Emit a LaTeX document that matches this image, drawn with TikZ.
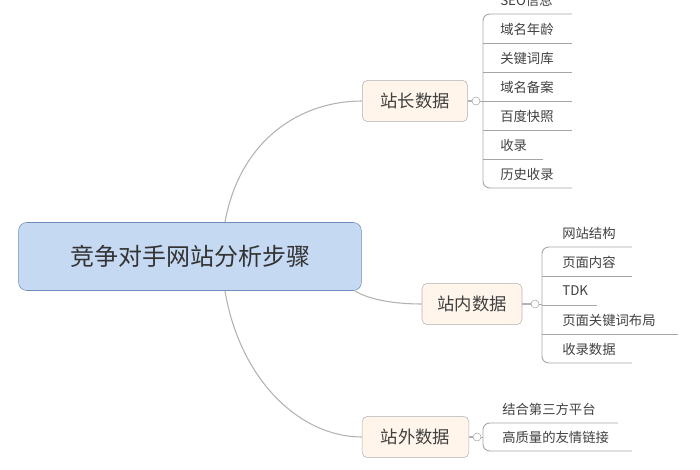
\documentclass[tikz,border=0pt]{standalone}
\usepackage{fontspec}
\newfontfamily\cjk{Noto Sans CJK SC}
\definecolor{mainfill}{RGB}{198,217,242}
\definecolor{mainline}{RGB}{110,140,185}
\begin{document}
\begin{tikzpicture}[x=0.75pt,y=-0.75pt,
  conn/.style={draw=black!30,line width=0.8pt},
  branch/.style={draw=black!30,fill=orange!8,rounded corners=4pt,inner sep=0pt,font=\cjk\fontsize{13}{13}\selectfont,text=black!75},
  leaf/.style={anchor=west,inner sep=0pt,font=\cjk\fontsize{10}{10}\selectfont,text=black!75},
  uline/.style={draw=black!35,line width=0.7pt},
  knob/.style={circle,draw=black!35,fill=white,inner sep=0pt,minimum size=6pt}]
\useasboundingbox (0,0) rectangle (700,470);
\node[draw=mainline,fill=mainfill,rounded corners=6pt,minimum width=257pt,minimum height=51pt,font=\cjk\fontsize{18}{18}\selectfont,text=black!80] (main) at (190,256.5) {竞争对手网站分析步骤};
\node[branch,minimum width=79pt,minimum height=31pt] (b1) at (415,101) {站长数据};
\node[branch,minimum width=75pt,minimum height=31pt] (b2) at (472,304) {站内数据};
\node[branch,minimum width=80pt,minimum height=31pt] (b3) at (415.5,437) {站外数据};
\coordinate (m1) at (225,222); \coordinate (m3) at (225,291); \coordinate (m2) at (355,291);
\draw[conn] (m1) .. controls (240,140) and (300,101) .. (b1.west);
\draw[conn] (m2) .. controls (370,300) and (395,304) .. (b2.west);
\draw[conn] (m3) .. controls (240,380) and (300,437) .. (b3.west);
% branch 1
\node[knob] (k1) at (476,101) {};
\draw[conn] (b1.east) -- (k1);
\draw[uline,rounded corners=5pt] (572,14) -- (483,14) -- (483,188) -- (572,188);
\foreach \y/\e in {43/572,72/572,101/572,130/572,159/543} \draw[uline] (483,\y) -- (\e,\y);
\draw[uline] (k1) -- (483,101);
\node[leaf] (l10) at (500,0) {SEO信息};
\node[leaf] (l11) at (500,29) {域名年龄};
\node[leaf] (l12) at (500,58) {关键词库};
\node[leaf] (l13) at (500,87) {域名备案};
\node[leaf] (l14) at (500,116) {百度快照};
\node[leaf] (l15) at (500,145) {收录};
\node[leaf] (l16) at (500,174) {历史收录};
% branch 2
\node[knob] (k2) at (535,304) {};
\draw[conn] (b2.east) -- (k2);
\draw[uline,rounded corners=5pt] (632,247) -- (542,247) -- (542,363) -- (632,363);
\foreach \y/\e in {276/632,305/597,334/678} \draw[uline] (542,\y) -- (\e,\y);
\draw[uline] (k2) -- (542,304);
\node[leaf] (l20) at (562,233) {网站结构};
\node[leaf] (l21) at (562,262) {页面内容};
\node[leaf] (l22) at (562,291) {TDK};
\node[leaf] (l23) at (562,320) {页面关键词布局};
\node[leaf] (l24) at (562,349) {收录数据};
% branch 3
\node[knob] (k3) at (477,437) {};
\draw[conn] (b3.east) -- (k3);
\draw[uline,rounded corners=5pt] (618,423) -- (483,423) -- (483,451) -- (632,451);
\draw[uline] (k3) -- (483,437);
\node[leaf] (l30) at (502,409) {结合第三方平台};
\node[leaf] (l31) at (502,437) {高质量的友情链接};
\end{tikzpicture}
\end{document}
